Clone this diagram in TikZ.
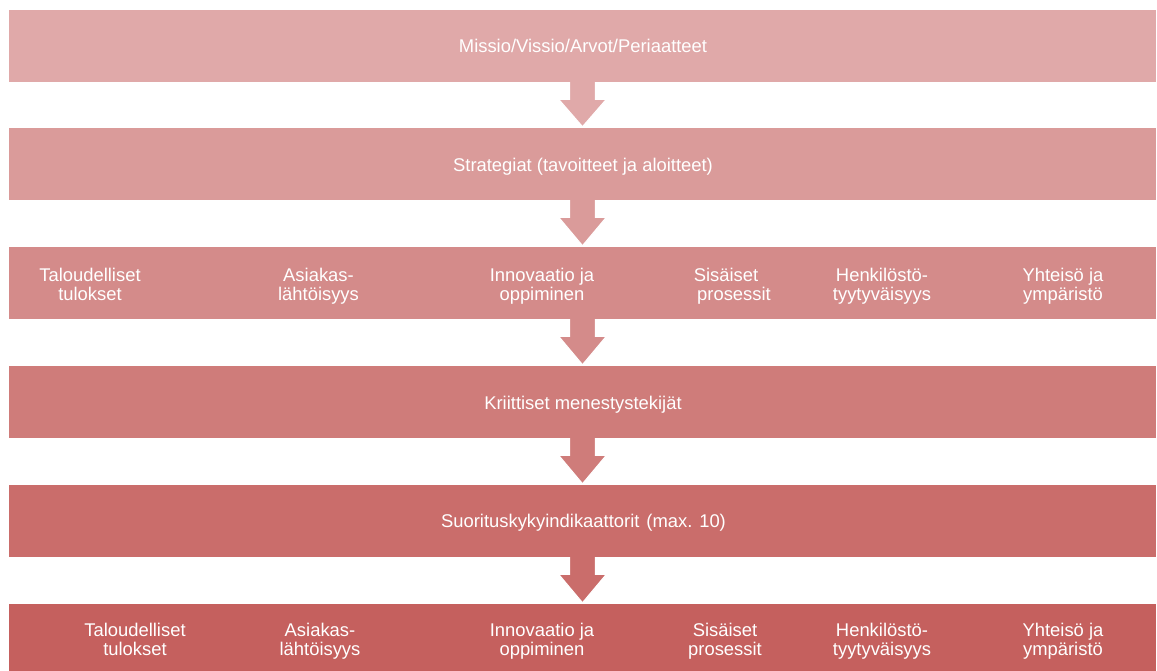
\documentclass[tikz,border=0pt]{standalone}
\usepackage{fontspec}
\setmainfont{Liberation Sans}
\usetikzlibrary{calc}

% row colours, light to dark
\definecolor{rowA}{HTML}{E0A9A9}
\definecolor{rowB}{HTML}{DA9B9A}
\definecolor{rowC}{HTML}{D48B8A}
\definecolor{rowD}{HTML}{CF7C7A}
\definecolor{rowE}{HTML}{CA6D6B}
\definecolor{rowF}{HTML}{C5605E}

% fixed line box so every line sits on the same grid
\newcommand\ls{\rule[-4pt]{0pt}{17pt}}

% down arrow from the bottom of one bar to the top of the next
\newcommand\flowarrow[3]{%
  \filldraw[flowarrow, fill=#3]
    ([xshift=-13pt]#1.south)
    -- ([shift={(-13pt,-17pt)}]#1.south)
    -- ([shift={(-24pt,-17pt)}]#1.south)
    -- ([yshift=1pt]#2.north)
    -- ([shift={(24pt,-17pt)}]#1.south)
    -- ([shift={(13pt,-17pt)}]#1.south)
    -- ([xshift=13pt]#1.south);}

\begin{document}
\begin{tikzpicture}[x=1pt,y=-1pt,
  bar/.style={fill=#1, minimum width=1147pt, minimum height=72pt,
    inner sep=0pt, text=white, font=\fontsize{18.4}{19}\selectfont},
  cell/.style={inner sep=0pt, align=center, text=white,
    font=\fontsize{18.4}{19}\selectfont},
  flowarrow/.style={draw=white, line width=1.2pt, line join=miter}]
\useasboundingbox (0,0) rectangle (1157,670);

% bars
\node[bar=rowA] (b1) at (582.5,46) {};
\node[bar=rowB] (b2) at (582.5,164) {};
\node[bar=rowC] (b3) at (582.5,283) {};
\node[bar=rowD] (b4) at (582.5,402) {};
\node[bar=rowE] (b5) at (582.5,521) {};
\node[bar=rowF] (b6) at (582.5,640) {};

% connecting arrows
\flowarrow{b1}{b2}{rowA}
\flowarrow{b2}{b3}{rowB}
\flowarrow{b3}{b4}{rowC}
\flowarrow{b4}{b5}{rowD}
\flowarrow{b5}{b6}{rowE}

% single-line labels
\node[cell] (l1) at (583,47.8) {\ls Missio/Vissio/Arvot/Periaatteet};
\node[cell] (l2) at (583,167) {\ls Strategiat (tavoitteet ja aloitteet)};
\node[cell] (l4) at (583,404.5) {\ls Kriittiset menestystekijät};
\node[cell] (l5) at (583.5,522.8) {\ls Suorituskykyindikaattorit\hspace{7pt}(max. 10)};

% perspectives, upper row
\node[cell] (p1) at (90,286) {\ls Taloudelliset\\\ls tulokset};
\node[cell] (p2) at (318.5,286) {\ls Asiakas-\\\ls lähtöisyys};
\node[cell] (p3) at (542,286) {\ls Innovaatio ja\\\ls oppiminen};
\node[cell] (p4) at (730,286) {\ls \hspace*{0pt}Sisäiset\hspace*{8pt}\\\ls \hspace*{8pt}prosessit};
\node[cell] (p5) at (882,286) {\ls Henkilöstö-\\\ls tyytyväisyys};
\node[cell] (p6) at (1063,286) {\ls Yhteisö ja\\\ls ympäristö};

% perspectives, lower row
\node[cell] (q1) at (135,641) {\ls Taloudelliset\\\ls tulokset};
\node[cell] (q2) at (320,641) {\ls Asiakas-\\\ls lähtöisyys};
\node[cell] (q3) at (542,641) {\ls Innovaatio ja\\\ls oppiminen};
\node[cell] (q4) at (725,641) {\ls Sisäiset\\\ls prosessit};
\node[cell] (q5) at (882,641) {\ls Henkilöstö-\\\ls tyytyväisyys};
\node[cell] (q6) at (1063,641) {\ls Yhteisö ja\\\ls ympäristö};
\end{tikzpicture}
\end{document}
